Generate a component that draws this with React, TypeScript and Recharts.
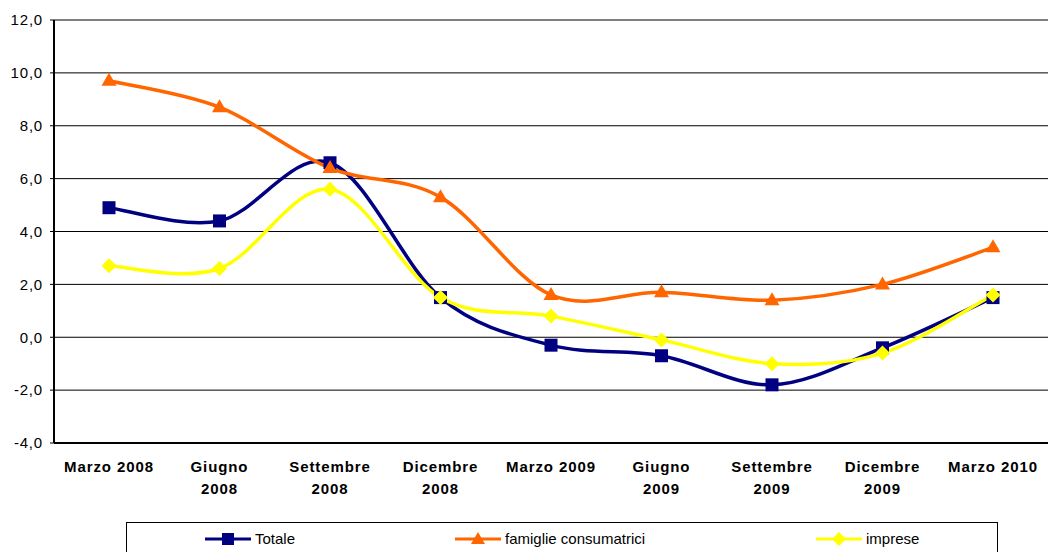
import React from "react";
import { LineChart, Line, XAxis, YAxis, CartesianGrid, Legend } from "recharts";

const categories = [
  "Marzo 2008",
  "Giugno 2008",
  "Settembre 2008",
  "Dicembre 2008",
  "Marzo 2009",
  "Giugno 2009",
  "Settembre 2009",
  "Dicembre 2009",
  "Marzo 2010",
];
const tickLabels: string[][] = [
  ["Marzo 2008"],
  ["Giugno", "2008"],
  ["Settembre", "2008"],
  ["Dicembre", "2008"],
  ["Marzo 2009"],
  ["Giugno", "2009"],
  ["Settembre", "2009"],
  ["Dicembre", "2009"],
  ["Marzo 2010"],
];
const totale = [4.9, 4.4, 6.6, 1.5, -0.3, -0.7, -1.8, -0.4, 1.5];
const famiglie = [9.7, 8.7, 6.4, 5.3, 1.6, 1.7, 1.4, 2.0, 3.4];
const imprese = [2.7, 2.6, 5.6, 1.5, 0.8, -0.1, -1.0, -0.6, 1.6];
const yTicks = [-4, -2, 0, 2, 4, 6, 8, 10, 12];
const seriesNames = ["Totale", "famiglie consumatrici", "imprese"];

const data = categories.map((c, i) => ({
  cat: c,
  totale: totale[i],
  famiglie: famiglie[i],
  imprese: imprese[i],
}));

const NAVY = "#000080";
const ORANGE = "#FF6600";
const YELLOW = "#FFFF00";
const FONT = "'Liberation Sans', Arial, sans-serif";

// Excel-like smoothed curve (Catmull-Rom as cubic Bezier)
const excelCurve: any = (context: any) => {
  let pts: number[][] = [];
  return {
    areaStart() {},
    areaEnd() {},
    lineStart() {
      pts = [];
    },
    lineEnd() {
      const n = pts.length;
      if (!n) return;
      context.moveTo(pts[0][0], pts[0][1]);
      for (let i = 0; i < n - 1; i++) {
        const p0 = pts[Math.max(i - 1, 0)];
        const p1 = pts[i];
        const p2 = pts[i + 1];
        const p3 = pts[Math.min(i + 2, n - 1)];
        const c1x = p1[0] + (p2[0] - p0[0]) / 6;
        const c1y = p1[1] + (p2[1] - p0[1]) / 6;
        const c2x = p2[0] - (p3[0] - p1[0]) / 6;
        const c2y = p2[1] - (p3[1] - p1[1]) / 6;
        context.bezierCurveTo(c1x, c1y, c2x, c2y, p2[0], p2[1]);
      }
    },
    point(x: number, y: number) {
      pts.push([+x, +y]);
    },
  };
};

const Square = (props: any) => {
  const { cx, cy, index } = props;
  if (cx == null || cy == null) return <g key={`s${index}`} />;
  return <rect key={`s${index}`} x={cx - 6.5} y={cy - 6.5} width={13} height={13} fill={NAVY} />;
};
const Triangle = (props: any) => {
  const { cx, cy, index } = props;
  if (cx == null || cy == null) return <g key={`t${index}`} />;
  return (
    <polygon
      key={`t${index}`}
      points={`${cx},${cy - 8} ${cx - 7.5},${cy + 5} ${cx + 7.5},${cy + 5}`}
      fill={ORANGE}
    />
  );
};
const Diamond = (props: any) => {
  const { cx, cy, index } = props;
  if (cx == null || cy == null) return <g key={`d${index}`} />;
  return (
    <polygon
      key={`d${index}`}
      points={`${cx},${cy - 7.5} ${cx + 7.5},${cy} ${cx},${cy + 7.5} ${cx - 7.5},${cy}`}
      fill={YELLOW}
    />
  );
};

const XTick = (props: any) => {
  const { x, y, index } = props;
  const lines = tickLabels[index] || [];
  return (
    <text
      x={x}
      y={y}
      textAnchor="middle"
      fontFamily={FONT}
      fontSize={15}
      fontWeight="bold"
      fill="#000"
      letterSpacing={0.9}
    >
      {lines.map((l, i) => (
        <tspan key={i} x={x} dy={i === 0 ? 21 : 21.5}>
          {l}
        </tspan>
      ))}
    </text>
  );
};

const LegendIcon = ({ color, shape }: { color: string; shape: string }) => (
  <svg width={46} height={14} style={{ display: "block" }}>
    <line x1={0} y1={7} x2={46} y2={7} stroke={color} strokeWidth={3} />
    {shape === "square" && <rect x={17} y={1} width={12} height={12} fill={color} />}
    {shape === "triangle" && <polygon points="23,0 16,12 30,12" fill={color} />}
    {shape === "diamond" && <polygon points="23,0 30,7 23,14 16,7" fill={color} />}
  </svg>
);

const legendItems = [
  { name: seriesNames[0], color: NAVY, shape: "square", left: 78 },
  { name: seriesNames[1], color: ORANGE, shape: "triangle", left: 328 },
  { name: seriesNames[2], color: YELLOW, shape: "diamond", left: 689 },
];

const LegendContent = () => (
  <div
    style={{
      position: "relative",
      width: 872,
      height: 44,
      border: "1px solid #000",
      boxSizing: "border-box",
      background: "#fff",
      fontFamily: FONT,
      fontSize: 15,
      color: "#000",
    }}
  >
    {legendItems.map((it) => (
      <div
        key={it.name}
        style={{
          position: "absolute",
          left: it.left,
          top: 8,
          display: "flex",
          alignItems: "center",
          gap: 4,
          whiteSpace: "nowrap",
        }}
      >
        <LegendIcon color={it.color} shape={it.shape} />
        <span style={{ lineHeight: "16px" }}>{it.name}</span>
      </div>
    ))}
  </div>
);

export default function App() {
  return (
    <div style={{ position: "absolute", left: 0, top: 0, width: 1048, height: 552, overflow: "hidden", background: "#fff" }}>
      <LineChart
        width={1048}
        height={552}
        data={data}
        margin={{ top: 20, right: 0, bottom: 79, left: 0 }}
      >
        <CartesianGrid vertical={false} stroke="#000" strokeWidth={1} />
        <XAxis
          dataKey="cat"
          interval={0}
          height={30}
          padding={{ left: 55, right: 55 }}
          tick={<XTick />}
          tickLine={false}
          axisLine={{ stroke: "#000", strokeWidth: 2 }}
        />
        <YAxis
          domain={[-4, 12]}
          ticks={yTicks}
          width={54}
          interval={0}
          tickSize={4}
          tickMargin={7}
          tickLine={{ stroke: "#000" }}
          axisLine={{ stroke: "#000", strokeWidth: 2 }}
          tickFormatter={(v: number) => v.toFixed(1).replace(".", ",")}
          tick={{ fill: "#000", fontSize: 15, fontFamily: FONT, letterSpacing: 0.8 }}
        />
        <Legend
          layout="horizontal"
          verticalAlign="middle"
          align="center"
          content={<LegendContent />}
          wrapperStyle={{ position: "absolute", left: 126, top: 522, width: 872 }}
        />
        <Line
          dataKey="totale"
          name={seriesNames[0]}
          type={excelCurve}
          stroke={NAVY}
          strokeWidth={3.5}
          dot={Square}
          activeDot={false}
          isAnimationActive={false}
        />
        <Line
          dataKey="famiglie"
          name={seriesNames[1]}
          type={excelCurve}
          stroke={ORANGE}
          strokeWidth={3.5}
          dot={Triangle}
          activeDot={false}
          isAnimationActive={false}
        />
        <Line
          dataKey="imprese"
          name={seriesNames[2]}
          type={excelCurve}
          stroke={YELLOW}
          strokeWidth={3.5}
          dot={Diamond}
          activeDot={false}
          isAnimationActive={false}
        />
      </LineChart>
    </div>
  );
}
